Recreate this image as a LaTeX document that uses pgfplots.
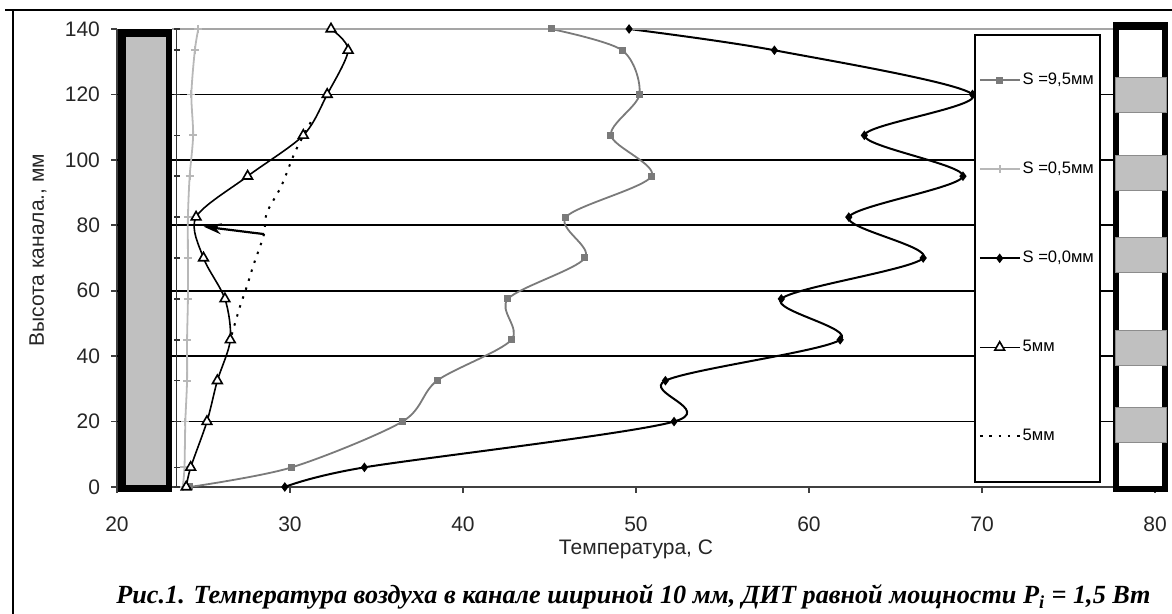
\documentclass[border=0pt]{standalone}
\usepackage{fontspec}
\setmainfont{Liberation Sans}
\newfontfamily\capfont{Liberation Serif}
\usepackage{pgfplots}
\pgfplotsset{compat=1.18}
\usetikzlibrary{arrows.meta}
\definecolor{colgray}{HTML}{C0C0C0}
\definecolor{sNine}{HTML}{7A7A7A}
\definecolor{sHalf}{HTML}{B8B8B8}

\begin{document}
\begin{tikzpicture}
\useasboundingbox (0,0) rectangle (586pt,307pt);
\begin{axis}[
  at={(58.5pt,63.5pt)}, anchor=south west,
  scale only axis, width=519pt, height=229pt,
  xmin=20, xmax=80, ymin=0, ymax=140,
  xtick={20,30,...,80}, ytick={0,140},
  extra y ticks={20,40,60,80,100,120},
  extra y tick style={grid=major},
  grid style={line width=0.9pt, black},
  axis x line*=bottom, axis y line*=left,
  axis line style={line width=0.9pt, black!75, -},
  tick align=outside, major tick length=3pt,
  tick style={line width=0.8pt, black!75},
  /pgf/number format/assume math mode=true,
  ticklabel style={font=\fontsize{10.5}{12}\selectfont, text=black!85},
  yticklabel style={xshift=-2pt},
  xticklabel style={yshift=-8.5pt},
  ylabel={Высота канала., мм},
  label style={font=\fontsize{10.5}{12}\selectfont, text=black!85},
  ylabel style={at={(axis description cs:-0.0761,0.517)}, anchor=center},
  legend style={at={(0.8256,0.989)}, anchor=north west, draw=black, line width=0.8pt,
    fill=white, inner xsep=2pt, inner ysep=18pt, row sep=35pt,
    font=\fontsize{8.3}{9}\selectfont,
    nodes={inner sep=1pt, text height=6pt, text depth=1.5pt}},
  legend cell align=left,
  legend image code/.code={\draw[mark repeat=2,mark phase=2] plot coordinates {(0cm,0cm) (0.35cm,0cm) (0.7cm,0cm)};},
]
% S = 9,5 mm
\addplot[sNine, line width=0.9pt, smooth, tension=0.5, mark=square*, mark size=1.3pt, mark options={solid, fill=sNine}]
coordinates {(24.2,0) (30.1,6) (36.5,20) (38.5,32.5) (42.8,45) (42.6,57.5) (47.05,70) (45.95,82.5) (50.9,95) (48.55,107.5) (50.2,120) (49.2,133.5) (45.1,140)};
\addlegendentry{S =9,5мм}
% S = 0,5 mm
\addplot[sHalf, line width=0.9pt, smooth, tension=0.5, mark=+, mark size=2pt, mark options={solid}]
coordinates {(23.8,0) (23.9,6) (23.95,20) (24.05,32.5) (24.05,45) (24.1,57.5) (24.1,70) (24.1,82.5) (24.2,95) (24.4,107.5) (24.3,120) (24.5,133.5) (24.7,140)};
\addlegendentry{S =0,5мм}
% S = 0,0 mm
\addplot[black, line width=1pt, smooth, tension=0.5, mark=diamond*, mark size=1.6pt, mark options={solid}]
coordinates {(29.7,0) (34.3,6) (52.2,20) (51.7,32.5) (61.8,45) (58.4,57.5) (66.6,70) (62.3,82.5) (68.9,95) (63.2,107.5) (69.45,120) (58.0,133.5) (49.6,140)};
\addlegendentry{S =0,0мм}
% 5 mm (triangles)
\addplot[black, line width=0.8pt, smooth, tension=0.5, mark=triangle*, mark size=2.8pt, mark options={solid, fill=white, draw=black}]
coordinates {(24.0,0) (24.26,6) (25.2,20) (25.8,32.5) (26.55,45) (26.24,57.5) (25.0,70) (24.57,82.5) (27.55,95) (30.77,107.5) (32.15,120) (33.36,133.5) (32.37,140)};
\addlegendentry{5мм}
% 5 mm (dotted)
\addplot[black, line width=1pt, dash pattern=on 1.2pt off 3.5pt, smooth, tension=0.5]
coordinates {(31.2,111.5) (30.3,102.5) (29.5,92) (28.65,83.7) (28.5,77.3) (27.9,68) (27.5,61.2) (27.1,55) (26.6,46)};
\addlegendentry{5мм}
% wall line (not in legend)
\addplot[black!80, line width=0.8pt, mark=-, mark size=1.5pt, forget plot]
coordinates {(23.45,0) (23.45,6) (23.45,20) (23.45,32.5) (23.45,45) (23.45,57.5) (23.45,70) (23.45,82.5) (23.45,95) (23.45,107.5) (23.45,120) (23.45,133.5) (23.45,140)};
\draw[sHalf!90!black, line width=0.7pt] (axis cs:23.2,140) -- (axis cs:77.6,140);
\draw[line width=1.1pt, -{Stealth[length=9pt,width=5.5pt]}] (axis cs:28.5,77.3) -- (axis cs:25.0,79.6);
\end{axis}
\begin{scope}[shift={(0pt,307pt)}, x=0.5pt, y=-0.5pt]
  % left column
  \fill[black] (118,29) rectangle (172,492);
  \fill[colgray] (126,37) rectangle (166,485);
  % right column
  \fill[black] (1113,22) rectangle (1168,492);
  \fill[white] (1119,30) rectangle (1162,486);
  \foreach \a/\b in {77/112,155/190,237/272,330/365,407/442}
    \filldraw[fill=colgray, draw=black!45, line width=0.4pt] (1115,\a) rectangle (1166,\b);
  % frame
  \draw[line width=1pt] (13,10) -- (13,614);
  \draw[line width=1pt] (5,10) -- (1172,10);
  % x axis title
  \node[font=\fontsize{10.5}{12}\selectfont, text=black!85, anchor=center] at (636,549) {Температура, С};
  % caption
  \node[font=\capfont\bfseries\itshape\fontsize{13.1}{15}\selectfont, anchor=base] at (633.5,604)
    {Рис.1. Температура воздуха в канале шириной 10 мм, ДИТ равной мощности P\textsubscript{i} = 1,5 Вт};
\end{scope}
\end{tikzpicture}
\end{document}
